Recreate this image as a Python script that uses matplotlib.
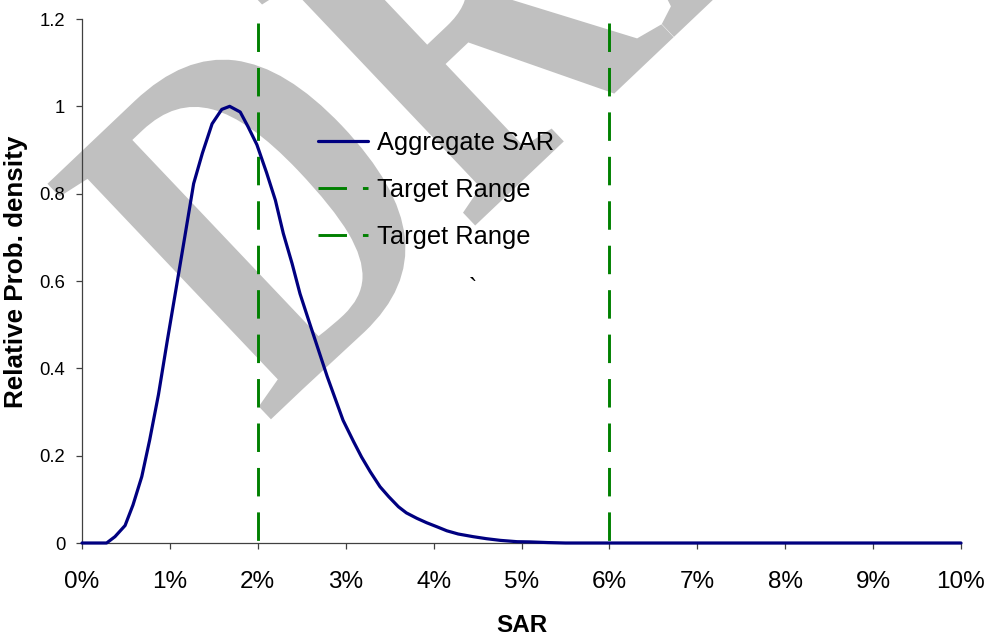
import matplotlib
matplotlib.use("Agg")
import matplotlib.pyplot as plt
from matplotlib.ticker import FixedLocator, FuncFormatter
from matplotlib.patheffects import AbstractPathEffect
from matplotlib.transforms import Affine2D

plt.rcParams['font.family'] = ['Liberation Sans', 'DejaVu Sans']
plt.rcParams['lines.scale_dashes'] = False

# SAR (%) and relative probability density of the aggregate distribution
sar_pct = [0.0, 0.28, 0.375, 0.49, 0.58, 0.68, 0.77, 0.87, 0.97, 1.07, 1.17, 1.27,
           1.37, 1.48, 1.59, 1.68, 1.80, 1.89, 1.99, 2.10, 2.20, 2.29, 2.39, 2.48,
           2.59, 2.69, 2.79, 2.88, 2.97, 3.09, 3.18, 3.28, 3.39, 3.49, 3.60, 3.69,
           3.81, 3.92, 4.04, 4.15, 4.28, 4.45, 4.60, 4.76, 4.95, 5.10, 5.30, 5.50, 10.0]
density = [0.0, 0.0, 0.0145, 0.040, 0.087, 0.152, 0.236, 0.340, 0.463, 0.582, 0.702, 0.823,
           0.893, 0.960, 0.993, 1.000, 0.987, 0.953, 0.912, 0.848, 0.785, 0.709, 0.640, 0.571,
           0.503, 0.442, 0.381, 0.331, 0.281, 0.232, 0.197, 0.163, 0.129, 0.106, 0.083, 0.069,
           0.0565, 0.0465, 0.037, 0.028, 0.0206, 0.0145, 0.0099, 0.006, 0.003, 0.0025, 0.001, 0.0, 0.0]

# Target SAR range bounds (%) and the vertical extent of the marker lines
target_low = 2.0
target_high = 6.0
target_span = [0.0, 1.19]

x_ticks = [0, 1, 2, 3, 4, 5, 6, 7, 8, 9, 10]
y_ticks = [0, 0.2, 0.4, 0.6, 0.8, 1.0, 1.2]

W, H = 991, 639
fig = plt.figure(figsize=(W / 100, H / 100), dpi=100)
fig.patch.set_facecolor('white')


class Condense(AbstractPathEffect):
    """Squeeze rendered glyphs along a given direction about an anchor (display px)."""

    def __init__(self, anchor, angle, factor):
        super().__init__()
        ax_, ay_ = anchor
        self._extra = (Affine2D().translate(-ax_, -ay_).rotate_deg(-angle)
                       .scale(factor, 1.0).rotate_deg(angle).translate(ax_, ay_))

    def draw_path(self, renderer, gc, tpath, affine, rgbFace=None):
        renderer.draw_path(gc, tpath, affine + self._extra, rgbFace)


# Watermark behind the plot
wm_x, wm_y, wm_rot = 266, 639 - 424, 43.5
fig.text(wm_x / W, wm_y / H, 'DRAFT', family=['Liberation Serif', 'DejaVu Serif'],
         fontsize=357, fontweight='bold', color='#C0C0C0', rotation=wm_rot,
         rotation_mode='anchor', ha='left', va='baseline', zorder=-5,
         path_effects=[Condense((wm_x, wm_y), wm_rot, 0.78)])

ax = fig.add_axes([82 / W, 1 - 543 / H, 879 / W, 524 / H])
ax.set_facecolor('none')

navy = '#000080'
green = '#008000'

ax.plot(sar_pct, density, color=navy, lw=2.3, solid_joinstyle='round',
        solid_capstyle='round', clip_on=False, zorder=4, label='Aggregate SAR')
for xv in (target_low, target_high):
    ax.plot([xv, xv], [target_span[1], target_span[0]], color=green, lw=2.1,
            dashes=(20.5, 11.5), dash_capstyle='butt', clip_on=False, zorder=3,
            label='Target Range')

ax.set_xlim(0, 10)
ax.set_ylim(0, 1.2)

for side in ('top', 'right'):
    ax.spines[side].set_visible(False)
for side in ('left', 'bottom'):
    ax.spines[side].set_color('#404040')
    ax.spines[side].set_linewidth(0.9)

ax.xaxis.set_major_locator(FixedLocator(x_ticks))
ax.yaxis.set_major_locator(FixedLocator(y_ticks))
ax.xaxis.set_major_formatter(FuncFormatter(lambda v, p: f'{int(round(v))}%'))
ax.yaxis.set_major_formatter(FuncFormatter(lambda v, p: f'{v:g}'))
ax.tick_params(axis='x', direction='out', length=4.5, width=0.9, color='#404040',
               labelsize=17.5, pad=15.5)
ax.tick_params(axis='y', direction='out', length=4.5, width=0.9, color='#404040',
               labelsize=13.3, pad=7.5)

fig.text(521.5 / W, 1 - 626 / H, 'SAR', fontsize=17.5, fontweight='bold',
         ha='center', va='center')
fig.text(16 / W, 1 - 272 / H, 'Relative Prob. density', fontsize=18.7, fontweight='bold',
         rotation=90, ha='center', va='center')

ax.text(4.45, 0.566, '`', fontsize=18, ha='center', va='baseline')

leg = ax.legend(loc='upper left', bbox_to_anchor=(318 / W, 1 - 131 / H),
                bbox_transform=fig.transFigure, frameon=False, fontsize=18.3,
                handlelength=1.98, handletextpad=0.33, labelspacing=0.9,
                borderpad=0, borderaxespad=0)

fig.savefig('out.png', dpi=100, facecolor='white')
